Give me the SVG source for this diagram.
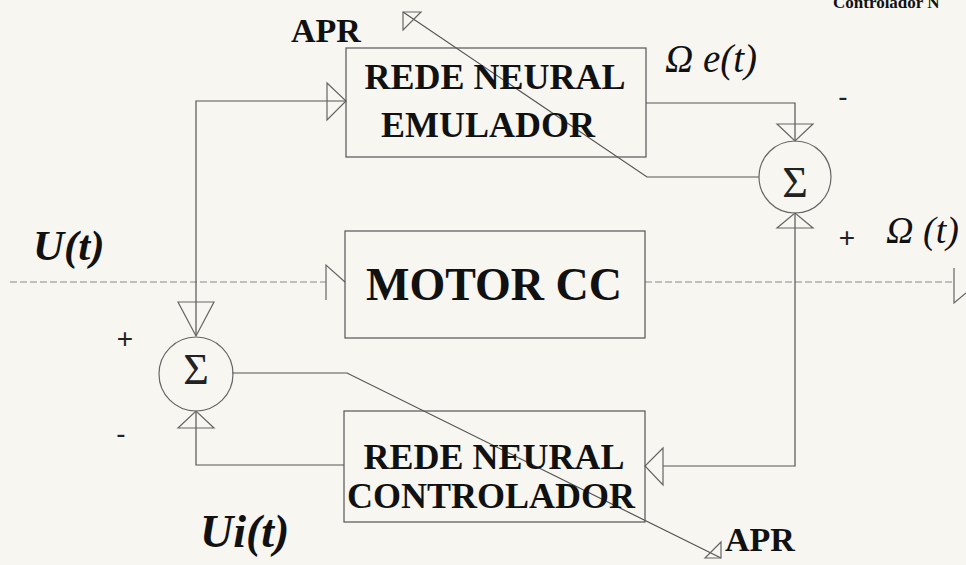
<svg xmlns="http://www.w3.org/2000/svg" width="966" height="565" viewBox="0 0 966 565">
<style>
.bg{fill:#f7f6f1}
.box{fill:none;stroke:#555;stroke-width:1.2}
.ln{fill:none;stroke:#555;stroke-width:1.2}
.dash{fill:none;stroke:#888;stroke-width:1.2;stroke-dasharray:7 3}
.arr{fill:none;stroke:#666;stroke-width:1.2;stroke-linejoin:miter}
.sum{fill:none;stroke:#666;stroke-width:1.2}
.bt{font-family:"Liberation Serif","Times New Roman",serif;font-weight:bold;fill:#111}
.it{font-family:"Liberation Serif","Times New Roman",serif;font-style:italic;fill:#111}
.sig{font-family:"Liberation Serif","Times New Roman",serif;font-size:44px;fill:#222;text-anchor:middle}
.sgn{font-family:"Liberation Sans",Arial,sans-serif;font-size:28px;fill:#222;text-anchor:middle}
</style>
<rect class="bg" x="0" y="0" width="966" height="565"/>

<g id="connectors">
  <line class="dash" x1="10" y1="282" x2="326" y2="282"/>
  <polyline class="arr" points="326,300 326,265 345,282"/>
  <line class="dash" x1="645" y1="282" x2="954" y2="282"/>
  <polyline class="arr" points="954,268 954,303 966,293"/>
  <polyline class="ln" points="346,101 196,101 196,336"/>
  <polygon class="arr" points="327,83 346,101 327,120"/>
  <polygon class="arr" points="178,302 214,302 196,336"/>
  <polyline class="ln" points="646,103 795,103 795,141"/>
  <polygon class="arr" points="777,124 813,124 795,141"/>
  <polyline class="ln" points="759,177 647,177 403,12"/>
  <polygon class="arr" points="403,12 403,30 421,12"/>
  <polyline class="ln" points="795,213 795,466 663,466"/>
  <polygon class="arr" points="777,228 813,228 795,213"/>
  <polygon class="arr" points="663,448 645,466 663,485"/>
  <polyline class="ln" points="344,465 196,465 196,411"/>
  <polygon class="arr" points="178,428 214,428 196,411"/>
  <polyline class="ln" points="232,373 347,373 721,558"/>
  <polygon class="arr" points="721,558 721,542 705,558"/>
</g>

<g id="emulador">
  <rect class="box" x="346" y="48" width="300" height="109"/>
  <text class="bt" x="495" y="89" font-size="36" text-anchor="middle">REDE NEURAL</text>
  <text class="bt" x="488" y="137" font-size="36" text-anchor="middle">EMULADOR</text>
</g>

<g id="motor">
  <rect class="box" x="345" y="231" width="300" height="107"/>
  <text class="bt" x="494" y="300" font-size="46" text-anchor="middle">MOTOR CC</text>
</g>

<g id="controlador">
  <rect class="box" x="344" y="411" width="301" height="111"/>
  <text class="bt" x="494" y="469" font-size="36" text-anchor="middle">REDE NEURAL</text>
  <text class="bt" x="491" y="508" font-size="36" text-anchor="middle">CONTROLADOR</text>
</g>

<g id="soma-direita">
  <circle class="sum" cx="795" cy="177" r="36"/>
  <text class="sig" x="795" y="197">Σ</text>
</g>

<g id="soma-esquerda">
  <circle class="sum" cx="196" cy="374" r="37"/>
  <text class="sig" x="196" y="384">Σ</text>
</g>

<g id="labels">
  <text class="bt" x="291" y="42" font-size="34">APR</text>
  <text class="bt" x="725" y="551" font-size="34">APR</text>
  <text class="it" x="665" y="72" font-size="39">Ω e(t)</text>
  <text class="it" x="886" y="243" font-size="38">Ω (t)</text>
  <text class="bt" x="33" y="260" font-size="43" font-style="italic">U(t)</text>
  <text class="bt" x="200" y="547" font-size="46" font-style="italic">Ui(t)</text>
  <text class="sgn" x="843" y="106">-</text>
  <text class="sgn" x="847" y="247">+</text>
  <text class="sgn" x="125" y="348">+</text>
  <text class="sgn" x="121" y="443">-</text>
  <text class="bt" x="833" y="8" font-size="17">Controlador N</text>
</g>
</svg>
